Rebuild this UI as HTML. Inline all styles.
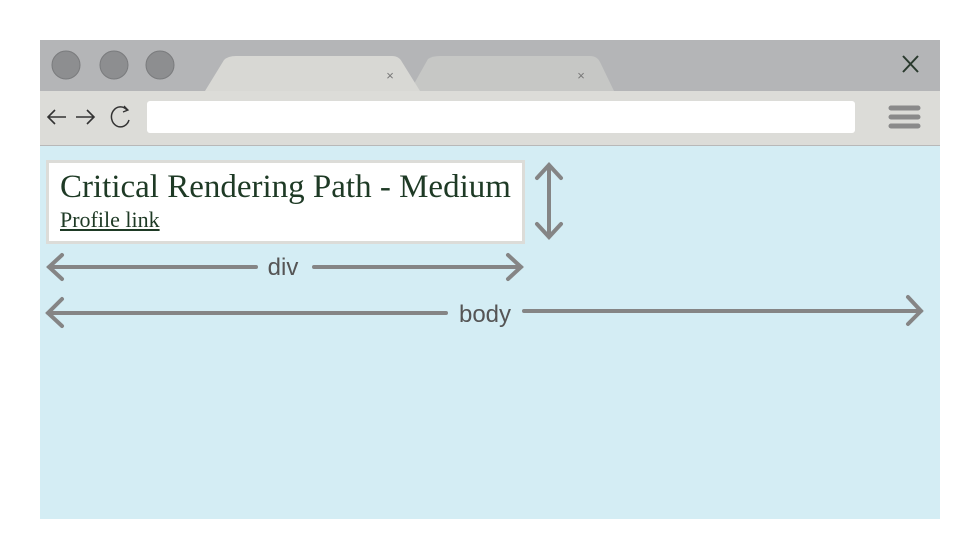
<!DOCTYPE html>
<html><head><meta charset="utf-8"><style>
body{margin:0;width:980px;height:560px;background:#fff;position:relative;overflow:hidden;font-family:"Liberation Sans",sans-serif}
.abs{position:absolute}
</style></head><body>
<div class="abs" style="left:40px;top:40px;width:900px;height:479px;background:#d4edf4"></div>
<div class="abs" style="left:40px;top:40px;width:900px;height:51px;background:#b4b5b7"></div>
<div class="abs" style="left:40px;top:91px;width:900px;height:54px;background:#dcdcd8;border-bottom:1px solid #b8b8b8"></div>
<svg class="abs" style="left:0;top:0" width="980" height="560">
 <circle cx="66" cy="65" r="14" fill="#8d8e90" stroke="#7a7b7d"/>
 <circle cx="114" cy="65" r="14" fill="#8d8e90" stroke="#7a7b7d"/>
 <circle cx="160" cy="65" r="14" fill="#8d8e90" stroke="#7a7b7d"/>
 <path d="M410 91 L428 59 Q432 56 440 56 L590 56 Q597 56 600 62 L614 91 Z" fill="#c6c7c5"/>
 <path d="M205 91 L224 60 Q228 56 236 56 L392 56 Q399 56 402 62 L420 91 Z" fill="#d8d8d4"/>
 <text x="390" y="80" font-size="13" fill="#777" text-anchor="middle">×</text>
 <text x="581" y="80" font-size="13" fill="#777" text-anchor="middle">×</text>
 <path d="M903 56 L918 72 M918 56 L903 72" stroke="#2a3a2e" stroke-width="2"/>
 <g stroke="#333" stroke-width="1.6" fill="none"><path d="M48 117 H66 M55 110 L48 117 L55 124"/></g>
 <g stroke="#333" stroke-width="1.6" fill="none"><path d="M76 117 H94 M87 110 L94 117 L87 124"/></g>
 <path d="M127 110 A9 10 0 1 0 129 120" stroke="#333" stroke-width="1.5" fill="none"/>
 <path d="M124 106 L128 110 L123 112" stroke="#333" stroke-width="1.3" fill="none"/>
 <rect x="147" y="101" width="708" height="32" rx="3" fill="#fff"/>
 <g stroke="#8a8a8a" stroke-width="5" stroke-linecap="round"><path d="M891 108 H918 M891 117 H918 M891 126 H918"/></g>
 <g stroke="#858585" stroke-width="4" fill="none" stroke-linecap="round">
  <path d="M549 165 V237 M537 178 L549 165 L561 178 M537 224 L549 237 L561 224"/>
  <path d="M49 267 H256 M314 267 H521 M62 255 L49 267 L62 279 M508 255 L521 267 L508 279"/>
  <path d="M48 313 H446 M524 311 H921 M62 299 L48 313 L62 326 M908 297 L921 311 L908 324"/>
 </g>
 <text x="283" y="275" font-size="24" fill="#555" text-anchor="middle">div</text>
 <text x="485" y="322" font-size="24" fill="#555" text-anchor="middle">body</text>
</svg>
<div class="abs" style="left:46px;top:160px;width:473px;height:78px;background:#fff;border:3px solid #dcdcd8">
 <div class="abs" style="left:11px;top:6px;font-family:'Liberation Serif',serif;font-size:33px;color:#1e3a25;white-space:nowrap">Critical Rendering Path - Medium</div>
 <div class="abs" style="left:11px;top:44px;font-family:'Liberation Serif',serif;font-size:22px;color:#1e3a25;text-decoration:underline;white-space:nowrap">Profile link</div>
</div>
</body></html>
